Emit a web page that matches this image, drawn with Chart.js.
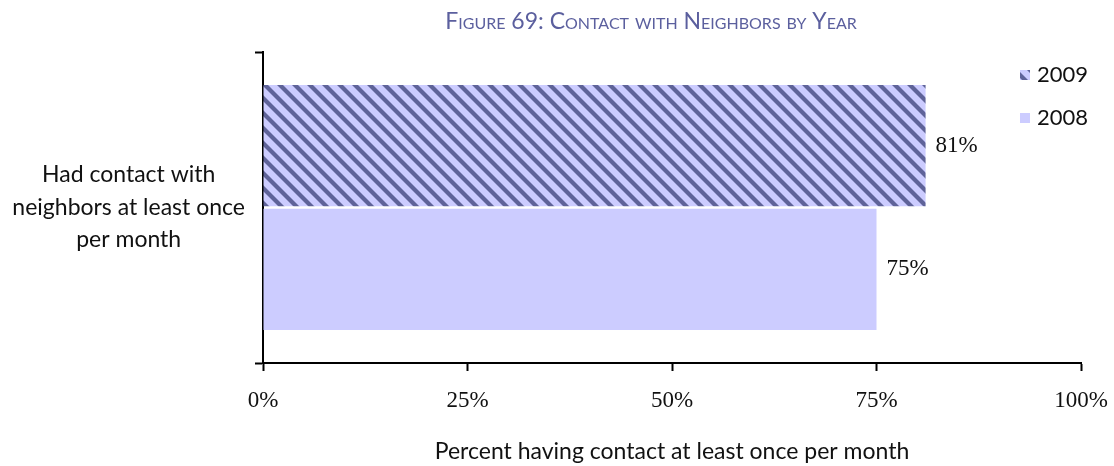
<!DOCTYPE html>
<html>
<head>
<meta charset="utf-8">
<script src="https://cdn.jsdelivr.net/npm/chart.js@4.4.0/dist/chart.umd.min.js"></script>
<style>
  html, body { margin: 0; padding: 0; background: #fff; }
</style>
</head>
<body>
<canvas id="myChart" width="1114" height="466"></canvas>
<script>
// data
var categories = [['Had contact with', 'neighbors at least once', 'per month']];
var years = ['2009', '2008'];
var values2009 = [81];
var values2008 = [75];
var xTicks = [0, 25, 50, 75, 100];
var chartTitle = 'Figure 69: Contact with Neighbors by Year';
var axisTitle = 'Percent having contact at least once per month';

var light = '#ccccff';
var dark = '#5f6399';

// diagonal hatch for the 2009 bar
function makeHatch() {
  var s = 15;
  var c = document.createElement('canvas');
  c.width = s; c.height = s;
  var g = c.getContext('2d');
  g.fillStyle = light;
  g.fillRect(0, 0, s, s);
  g.strokeStyle = dark;
  g.lineWidth = 4.2;
  [-s, 0, s].forEach(function (k) {
    g.beginPath();
    g.moveTo(k - 2, -2);
    g.lineTo(k + s + 2, s + 2);
    g.stroke();
  });
  return g.createPattern(c, 'repeat');
}
var hatch = makeHatch();

// title, legend and the value labels next to each bar
var extras = {
  id: 'extras',
  afterDraw: function (chart) {
    var ctx = chart.ctx;
    ctx.save();
    ctx.textBaseline = 'middle';

    ctx.font = '23px "Liberation Serif"';
    ctx.fillStyle = '#111';
    ctx.textAlign = 'left';
    chart.data.datasets.forEach(function (ds, i) {
      chart.getDatasetMeta(i).data.forEach(function (bar, j) {
        ctx.fillText(ds.data[j] + '%', bar.x + 10, bar.y);
      });
    });

    ctx.font = '22px Lato';
    chart.data.datasets.forEach(function (ds, i) {
      var y = 75 + i * 43;
      ctx.fillStyle = ds.backgroundColor;
      ctx.fillRect(1020, y - 5, 10, 10);
      ctx.fillStyle = '#111';
      ctx.fillText(ds.label, 1037, y);
    });

    ctx.font = 'small-caps 23px Lato';
    ctx.fillStyle = '#5b5f9e';
    ctx.textAlign = 'center';
    ctx.fillText(chartTitle, 651, 22);
    ctx.restore();
  }
};

var ctx = document.getElementById('myChart').getContext('2d');

var chart = new Chart(ctx, {
  type: 'bar',
  data: {
    labels: categories,
    datasets: [{
      label: years[0],
      data: values2009,
      backgroundColor: hatch,
      borderWidth: 0
    }, {
      label: years[1],
      data: values2008,
      backgroundColor: light,
      borderWidth: 0
    }]
  },
  options: {
    indexAxis: 'y',
    responsive: false,
    animation: false,
    devicePixelRatio: 1,
    categoryPercentage: 0.795,
    barPercentage: 0.98,
    layout: {
      padding: { top: 52, right: 33, bottom: 0, left: 0 }
    },
    plugins: {
      legend: { display: false },
      title: { display: false },
      tooltip: { enabled: false }
    },
    scales: {
      x: {
        min: 0,
        max: 100,
        afterBuildTicks: function (scale) {
          scale.ticks = xTicks.map(function (v) { return { value: v }; });
        },
        afterFit: function (scale) {
          scale.height = 103;
          scale.paddingLeft = 0;
          scale.paddingRight = 0;
        },
        grid: {
          drawOnChartArea: false,
          tickLength: 8,
          tickWidth: 2,
          color: '#000'
        },
        border: { color: '#000', width: 2 },
        ticks: {
          padding: 16,
          color: '#111',
          font: { family: '"Liberation Serif"', size: 23 },
          callback: function (v) { return v + '%'; }
        },
        title: {
          display: true,
          text: axisTitle,
          color: '#111',
          font: { family: 'Lato', size: 23 },
          padding: { top: 0, bottom: 1 }
        }
      },
      y: {
        offset: true,
        afterFit: function (scale) {
          scale.width = 263;
          scale.paddingTop = 0;
          scale.paddingBottom = 0;
        },
        grid: {
          offset: true,
          drawOnChartArea: false,
          tickLength: 8,
          tickWidth: 2,
          color: '#000'
        },
        border: { color: '#000', width: 2 },
        ticks: {
          padding: 10,
          crossAlign: 'center',
          color: '#111',
          font: { family: 'Lato', size: 23, lineHeight: 1.41 }
        }
      }
    }
  },
  plugins: [extras]
});
</script>
</body>
</html>
